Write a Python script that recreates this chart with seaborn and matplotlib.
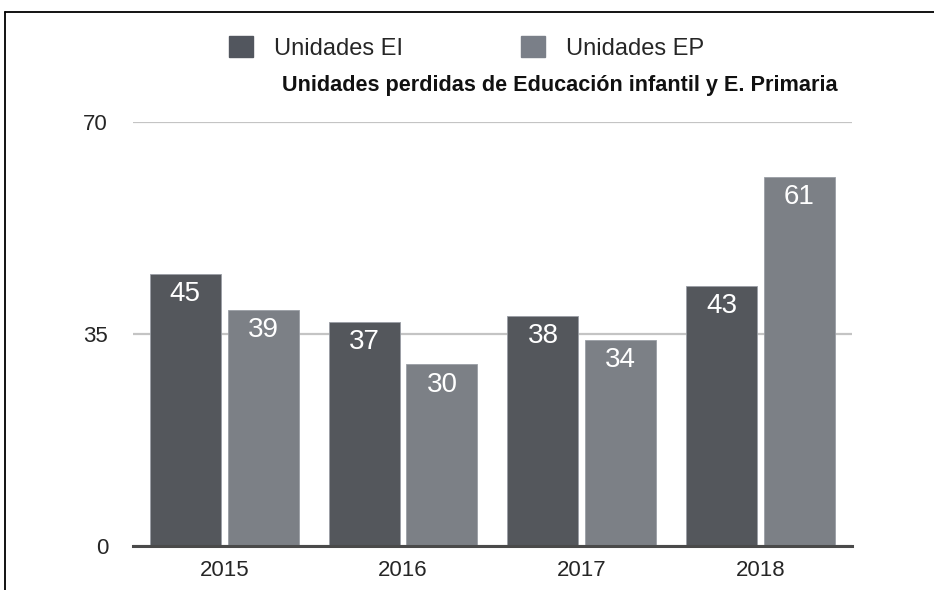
import matplotlib
matplotlib.use("Agg")
import matplotlib.pyplot as plt
import pandas as pd
import seaborn as sns
from matplotlib.lines import Line2D

years = ["2015", "2016", "2017", "2018"]
unidades_ei = [45, 37, 38, 43]
unidades_ep = [39, 30, 34, 61]
series_names = ["Unidades EI", "Unidades EP"]
y_ticks = [0, 35, 70]
title = "Unidades perdidas de Educación infantil y E. Primaria"

sns.set_theme(style="white")
plt.rcParams["font.family"] = ["Liberation Sans", "DejaVu Sans"]

df = pd.DataFrame({
    "year": years * 2,
    "value": unidades_ei + unidades_ep,
    "serie": [series_names[0]] * 4 + [series_names[1]] * 4,
})

colors = {"Unidades EI": "#52565e", "Unidades EP": "#7a7f88"}

fig = plt.figure(figsize=(9.34, 5.9), dpi=100)
ax = fig.add_axes([0.1424, 0.0746, 0.912 - 0.1424, 0.793 - 0.0746])

sns.barplot(data=df, x="year", y="value", hue="serie", palette=colors,
            width=0.87, gap=0.087, ax=ax, edgecolor="#9a9ea5", linewidth=0.6,
            legend=False, zorder=3)

for c in ax.containers:
    ax.bar_label(c, padding=-24, color="white", fontsize=20)

ax.set_ylim(0, 70)
ax.set_xlim(-0.51, 3.51)
ax.set_yticks(y_ticks)
ax.set_yticklabels([str(v) for v in y_ticks], fontsize=16)
ax.tick_params(axis="y", length=0, pad=18)
ax.tick_params(axis="x", length=0, pad=10, labelsize=16)
ax.set_xlabel("")
ax.set_ylabel("")
for s in ["top", "right", "left"]:
    ax.spines[s].set_visible(False)
ax.spines["bottom"].set_color("#4a4a4a")
ax.spines["bottom"].set_linewidth(2.2)
ax.spines["bottom"].set_zorder(5)
ax.yaxis.grid(True, color="#c4c4c4", linewidth=1.6)
ax.set_axisbelow(True)

handles = [plt.Rectangle((0, 0), 1, 1, color=colors[n]) for n in series_names]
fig.legend(handles, series_names, loc="center left", bbox_to_anchor=(0.2452, 0.9186),
           ncol=2, frameon=False, fontsize=17, borderpad=0, borderaxespad=0,
           handlelength=1.0, handleheight=1.0,
           handletextpad=0.9, columnspacing=5.0)

fig.text(0.897, 0.855, title, ha="right", va="center", fontsize=15.6,
         fontweight="bold", color="#111111")

# frame around the chart (cut at right and bottom)
top_y = 1 - 12 / 590
left_x = 5 / 934
fig.add_artist(Line2D([left_x, 1], [top_y, top_y], transform=fig.transFigure,
                      color="black", linewidth=1.3))
fig.add_artist(Line2D([left_x, left_x], [0, top_y], transform=fig.transFigure,
                      color="black", linewidth=1.3))

fig.savefig("out.png", dpi=100)
